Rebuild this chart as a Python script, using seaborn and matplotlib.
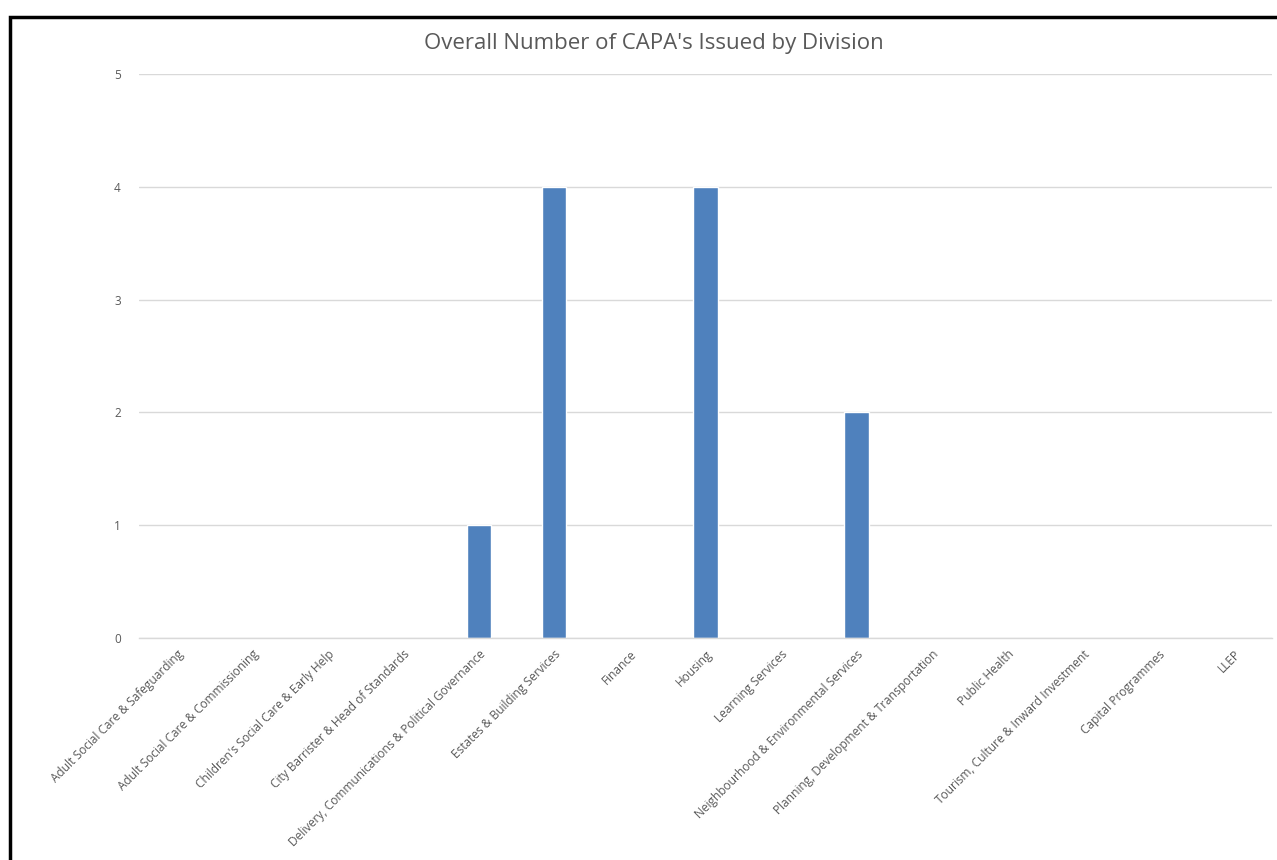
import pandas as pd
import matplotlib
matplotlib.use("Agg")
import matplotlib.pyplot as plt
import matplotlib.patches as mpatches
import seaborn as sns

# --- data ---
divisions = [
    "Adult Social Care & Safeguarding",
    "Adult Social Care & Commissioning",
    "Children's Social Care & Early Help",
    "City Barrister & Head of Standards",
    "Delivery, Communications & Political Governance",
    "Estates & Building Services",
    "Finance",
    "Housing",
    "Learning Services",
    "Neighbourhood & Environmental Services",
    "Planning, Development & Transportation",
    "Public Health",
    "Tourism, Culture & Inward Investment",
    "Capital Programmes",
    "LLEP",
]
capas = [0, 0, 0, 0, 1, 4, 0, 4, 0, 2, 0, 0, 0, 0, 0]
y_ticks = [0, 1, 2, 3, 4, 5]

df = pd.DataFrame({"Division": divisions, "CAPAs": capas})

sns.set_theme(style="white")
plt.rcParams['font.family'] = ['Open Sans', 'DejaVu Sans']

fig = plt.figure(figsize=(12.77, 8.6), dpi=100)
ax = fig.add_axes([0.1088, 0.2581, 0.8873, 0.6559])

sns.barplot(ax=ax, data=df, x="Division", y="CAPAs", color="#4F81BD",
            width=0.32, saturation=1)

ax.set_ylim(0, 5)
ax.set_yticks(y_ticks)
ax.yaxis.grid(True, color="#D9D9D9", linewidth=1)
ax.set_axisbelow(True)
for s in ["top", "right", "left"]:
    ax.spines[s].set_visible(False)
ax.spines["bottom"].set_color("#D9D9D9")
ax.spines["bottom"].set_linewidth(1)
ax.tick_params(axis="x", length=0, colors="#595959", labelsize=8.6, pad=7)
ax.tick_params(axis="y", length=0, colors="#595959", labelsize=8.5, pad=13)
ax.set_xlabel("")
ax.set_ylabel("")
plt.setp(ax.get_xticklabels(), rotation=45, ha="right", rotation_mode="anchor")

fig.text(0.512, 0.949, "Overall Number of CAPA's Issued by Division",
         ha="center", va="center", fontsize=16, color="#595959")

# outer frame of the pasted chart (runs off the right and bottom edges)
top = 1 - 17 / 860
frame = mpatches.Rectangle((10 / 1277, -0.1), 1.2, top + 0.1,
                           transform=fig.transFigure, fill=False,
                           edgecolor="black", linewidth=2.5, clip_on=False)
fig.patches.append(frame)

fig.savefig("out.png", dpi=100)
